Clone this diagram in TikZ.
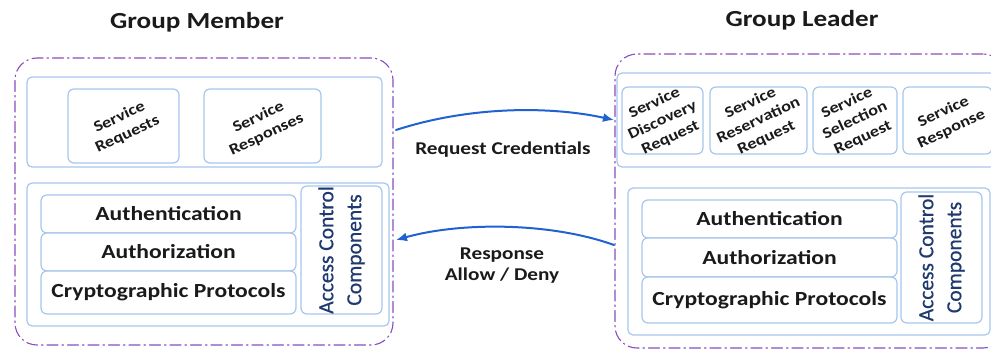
\documentclass[tikz,border=0pt]{standalone}
\usepackage{fontspec}
\setmainfont{Carlito}[FakeStretch=1.18]
\newfontfamily\acfont{Carlito}[FakeBold=0.6]
\usepackage{tikz}
\usetikzlibrary{arrows.meta}

\definecolor{boxblue}{HTML}{A7C6EE}
\definecolor{grpviolet}{HTML}{8A4CC0}
\definecolor{arrblue}{HTML}{1F62D0}
\definecolor{acnavy}{HTML}{1F3A6E}
\definecolor{txtdark}{HTML}{1A1A1A}

\begin{document}
\begin{tikzpicture}[
    x=1pt, y=-1pt,
    line cap=round,
    line join=round,
    every node/.style={text=txtdark, font=\bfseries},
    grp/.style={draw=grpviolet, line width=1.1pt, rounded corners=22pt,
        dash pattern=on 11pt off 4pt on 1.5pt off 4pt, inner sep=0pt},
    panel/.style={draw=boxblue, line width=1.2pt, rounded corners=5pt, inner sep=0pt},
    cell/.style={draw=boxblue, line width=1.2pt, rounded corners=6pt, inner sep=0pt, fill=white},
    celltext/.style={font=\bfseries\fontsize{20}{24}\selectfont},
    svctext/.style={rotate=25, align=center, inner sep=0pt, font=\bfseries\fontsize{15.5}{19}\selectfont},
    actext/.style={rotate=90, align=center, text=acnavy, font=\acfont\fontsize{21.5}{28}\selectfont},
    title/.style={font=\bfseries\fontsize{23}{26}\selectfont},
    msg/.style={align=center, font=\bfseries\fontsize{18}{21}\selectfont},
    flow/.style={draw=arrblue, line width=2pt, -{Latex[length=11pt, width=9pt]}}
    ]

    \useasboundingbox (0,0) rectangle (991,350);
    \clip (0,0) rectangle (991,350);

    % Group member
    \node[title] (gmT) at (197,22) {Group Member};
    \node[grp, minimum width=378pt, minimum height=287pt] (gm) at (204,201.5) {};

    \node[panel, minimum width=355pt, minimum height=90pt] (mTop) at (204.5,122) {};
    \node[cell, minimum width=111pt, minimum height=74pt] (mReq) at (123.5,126) {};
    \node[svctext] (mReqT) at (mReq) {Service\\Requests};
    \node[cell, minimum width=117pt, minimum height=74pt] (mRes) at (262.5,126) {};
    \node[svctext] (mResT) at (mRes) {Service\\Responses};

    \node[panel, minimum width=362pt, minimum height=143pt] (mBot) at (208,254.5) {};
    \node[cell, celltext, minimum width=255pt, minimum height=38pt] (mAuth) at (168.5,214) {Authentication};
    \node[cell, celltext, minimum width=255pt, minimum height=38pt] (mAuthz) at (168.5,252) {Authorization};
    \node[cell, celltext, minimum width=255pt, minimum height=43pt] (mCrypto) at (168.5,292.5) {Cryptographic Protocols};
    \node[cell, minimum width=81pt, minimum height=128pt] (mAcc) at (341.5,250) {};
    \node[actext] (mAccT) at (mAcc) {Access Control\\Components};

    % Group leader
    \node[title] (glT) at (802,20) {Group Leader};
    \node[grp, minimum width=390pt, minimum height=294pt] (gl) at (810,201) {};

    \node[panel, minimum width=383pt, minimum height=94pt] (lTop) at (808.5,120) {};
    \node[cell, minimum width=81pt, minimum height=67pt] (lDisc) at (662.5,120.5) {};
    \node[svctext] (lDiscT) at (lDisc) {Service\\Discovery\\Request};
    \node[cell, minimum width=97pt, minimum height=67pt] (lResv) at (758.5,120.5) {};
    \node[svctext] (lResvT) at (lResv) {Service\\Reservation\\Request};
    \node[cell, minimum width=84pt, minimum height=67pt] (lSel) at (855,120.5) {};
    \node[svctext] (lSelT) at (lSel) {Service\\Selection\\Request};
    \node[cell, minimum width=89pt, minimum height=67pt] (lResp) at (947.5,120.5) {};
    \node[svctext] (lRespT) at (lResp) {Service\\Response};

    \node[panel, minimum width=362pt, minimum height=147pt] (lBot) at (809,261.5) {};
    \node[cell, celltext, minimum width=255pt, minimum height=38pt] (lAuth) at (769.5,219) {Authentication};
    \node[cell, celltext, minimum width=255pt, minimum height=39pt] (lAuthz) at (769.5,257.5) {Authorization};
    \node[cell, celltext, minimum width=255pt, minimum height=46pt] (lCrypto) at (769.5,300) {Cryptographic Protocols};
    \node[cell, minimum width=81pt, minimum height=131pt] (lAcc) at (941.5,257.5) {};
    \node[actext] (lAccT) at (lAcc) {Access Control\\Components};

    % Messages
    \coordinate (reqS) at (396,130);
    \coordinate (reqE) at (614,120);
    \coordinate (resS) at (614,245);
    \coordinate (resE) at (396,240);

    \draw[flow] (reqS) .. controls (470,106) and (550,106) .. (reqE);
    \node[msg] (reqL) at (503,150) {Request Credentials};

    \draw[flow] (resS) .. controls (550,222) and (460,222) .. (resE);
    \node[msg] (resL) at (502,266) {Response\\Allow / Deny};

\end{tikzpicture}
\end{document}
